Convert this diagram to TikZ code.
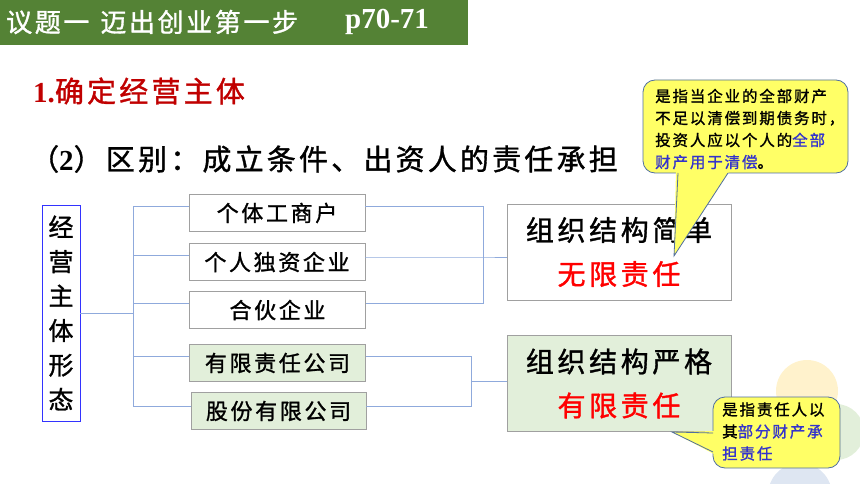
\documentclass[tikz,border=0pt]{standalone}
\usepackage{fontspec}
\setmainfont{Noto Sans CJK SC}[AutoFakeBold=1.2]
\newfontfamily\serifbold{Liberation Serif}
\usepackage{tikz}
\usetikzlibrary{positioning,calc}
\definecolor{titlegreen}{RGB}{84,130,53}
\definecolor{headred}{RGB}{192,0,0}
\definecolor{linkblue}{RGB}{143,170,220}
\definecolor{framegray}{RGB}{160,160,160}
\definecolor{sideblue}{RGB}{51,51,255}
\definecolor{boxgreen}{RGB}{226,239,218}
\definecolor{noteyellow}{RGB}{255,255,102}
\definecolor{noteedge}{RGB}{80,110,160}
\definecolor{noteblue}{RGB}{51,51,204}
\definecolor{decoorange}{RGB}{255,242,204}
\definecolor{decogreen}{RGB}{226,239,218}
\definecolor{decoblue}{RGB}{222,230,242}

\tikzset{
    link/.style={draw=linkblue, thick},
    formbox/.style={rectangle, draw=framegray, thick, fill=white, inner sep=0pt,
        minimum width=176pt, minimum height=37pt,
        font=\bfseries\fontsize{22}{25}\selectfont\addfontfeature{LetterSpace=12}},
    sidebox/.style={rectangle, draw=sideblue, thick, fill=white, inner sep=0pt,
        minimum width=38pt, minimum height=216pt, align=center,
        font=\bfseries\fontsize{25}{34.5}\selectfont},
    resultbox/.style={rectangle, draw=framegray, thick, fill=white, inner sep=0pt,
        minimum width=224pt, minimum height=96pt, align=center,
        font=\bfseries\fontsize{28}{44}\selectfont\addfontfeature{LetterSpace=13}},
    note/.style={draw=noteedge, thick, fill=noteyellow},
    noteside/.style={draw=noteedge, thick},
    notetext/.style={inner sep=0pt, align=left, anchor=west,
        font=\bfseries\fontsize{15.5}{22}\selectfont\addfontfeature{LetterSpace=12}},
    heading/.style={inner sep=0pt, anchor=west,
        font=\bfseries\fontsize{29}{34}\selectfont\addfontfeature{LetterSpace=11}}
}

\begin{document}
\begin{tikzpicture}[x=1pt, y=-1pt]
    \useasboundingbox (0,0) rectangle (860,484);

    % Corner decoration
    \fill[decoorange] (807,391) circle (31pt);
    \fill[decogreen] (836,432) circle (28pt);
    \fill[decoblue] (800,495) circle (32pt);

    % Title bar
    \fill[titlegreen] (0,0) rectangle (468,45);
    \node[inner sep=0pt, anchor=west, text=white,
          font=\bfseries\fontsize{26}{30}\selectfont\addfontfeature{LetterSpace=10}] (topic) at (6,22) {议题一\hspace*{11pt}迈出创业第一步};
    \node[inner sep=0pt, anchor=west, text=white,
          font=\serifbold\bfseries\fontsize{29}{34}\selectfont] (pages) at (345,22) {p70-71};

    % Headings
    \node[heading, text=headred] (step) at (33,91) {{\serifbold\bfseries 1.}确定经营主体};
    \node[heading] (question) at (30,159) {（{\serifbold\bfseries 2}）区别：成立条件、出资人的责任承担};

    % Forms of business
    \node[sidebox] (xingtai) at (61,313) {经\\营\\主\\体\\形\\态};
    \node[formbox] (getihu) at (277,213) {个体工商户};
    \node[formbox] (duzi) at (277,262) {个人独资企业};
    \node[formbox] (hehuo) at (277.5,310) {合伙企业};
    \node[formbox, fill=boxgreen] (youxian) at (277.5,363) {有限责任公司};
    \node[formbox, fill=boxgreen, minimum width=175pt] (gufen) at (278.5,411) {股份有限公司};

    % Results
    \node[resultbox] (simple) at (619,252) {组织结构简单\\\textcolor{red}{无限责任}};
    \node[resultbox, fill=boxgreen] (strict) at (619,383.5) {组织结构严格\\\textcolor{red}{有限责任}};

    % Connectors
    \coordinate (trunk) at (133,313);
    \coordinate (bracketA) at (483,257);
    \coordinate (bracketB) at (471,381);
    \draw[link] (xingtai.east) -- (trunk);
    \foreach \b in {getihu,duzi,hehuo,youxian}
        \draw[link] ([yshift=7pt]\b.west) -| (trunk);
    \draw[link] ([yshift=5pt]gufen.west) -| (trunk);
    \draw[link] ([yshift=7pt]getihu.east) -| (bracketA);
    \draw[link] ([yshift=7pt]hehuo.east) -| (bracketA);
    \draw[link] ([yshift=5pt]duzi.east) -- (bracketA) -- (bracketA -| simple.west);
    \draw[link] ([yshift=7pt]youxian.east) -| (bracketB);
    \draw[link] ([yshift=5pt]gufen.east) -| (bracketB);
    \draw[link] (bracketB) -- (bracketB -| strict.west);

    % Note on unlimited liability
    \coordinate (tip1) at (674,256);
    \draw[note, rounded corners=12pt] (643,80) rectangle (848,173);
    \fill[noteyellow] (676,170) -- (tip1) -- (730,170) -- cycle;
    \draw[noteside] (678,173) -- (tip1) -- (728,173);
    \node[notetext] (note1) at (655,129) {是指当企业的全部财产\\不足以清偿到期债务时，\\投资人应以个人的\textcolor{noteblue}{全部}\\\textcolor{noteblue}{财产用于清偿}。};

    % Note on limited liability
    \coordinate (tip2) at (672,432);
    \draw[note, rounded corners=12pt] (713,397) rectangle (840,468);
    \fill[noteyellow] (716,431) -- (tip2) -- (716,455) -- cycle;
    \draw[noteside] (713,433) -- (tip2) -- (713,452);
    \node[notetext] (note2) at (722,431.5) {是指责任人以\\其\textcolor{noteblue}{部分财产承}\\\textcolor{noteblue}{担责任}};
\end{tikzpicture}
\end{document}
